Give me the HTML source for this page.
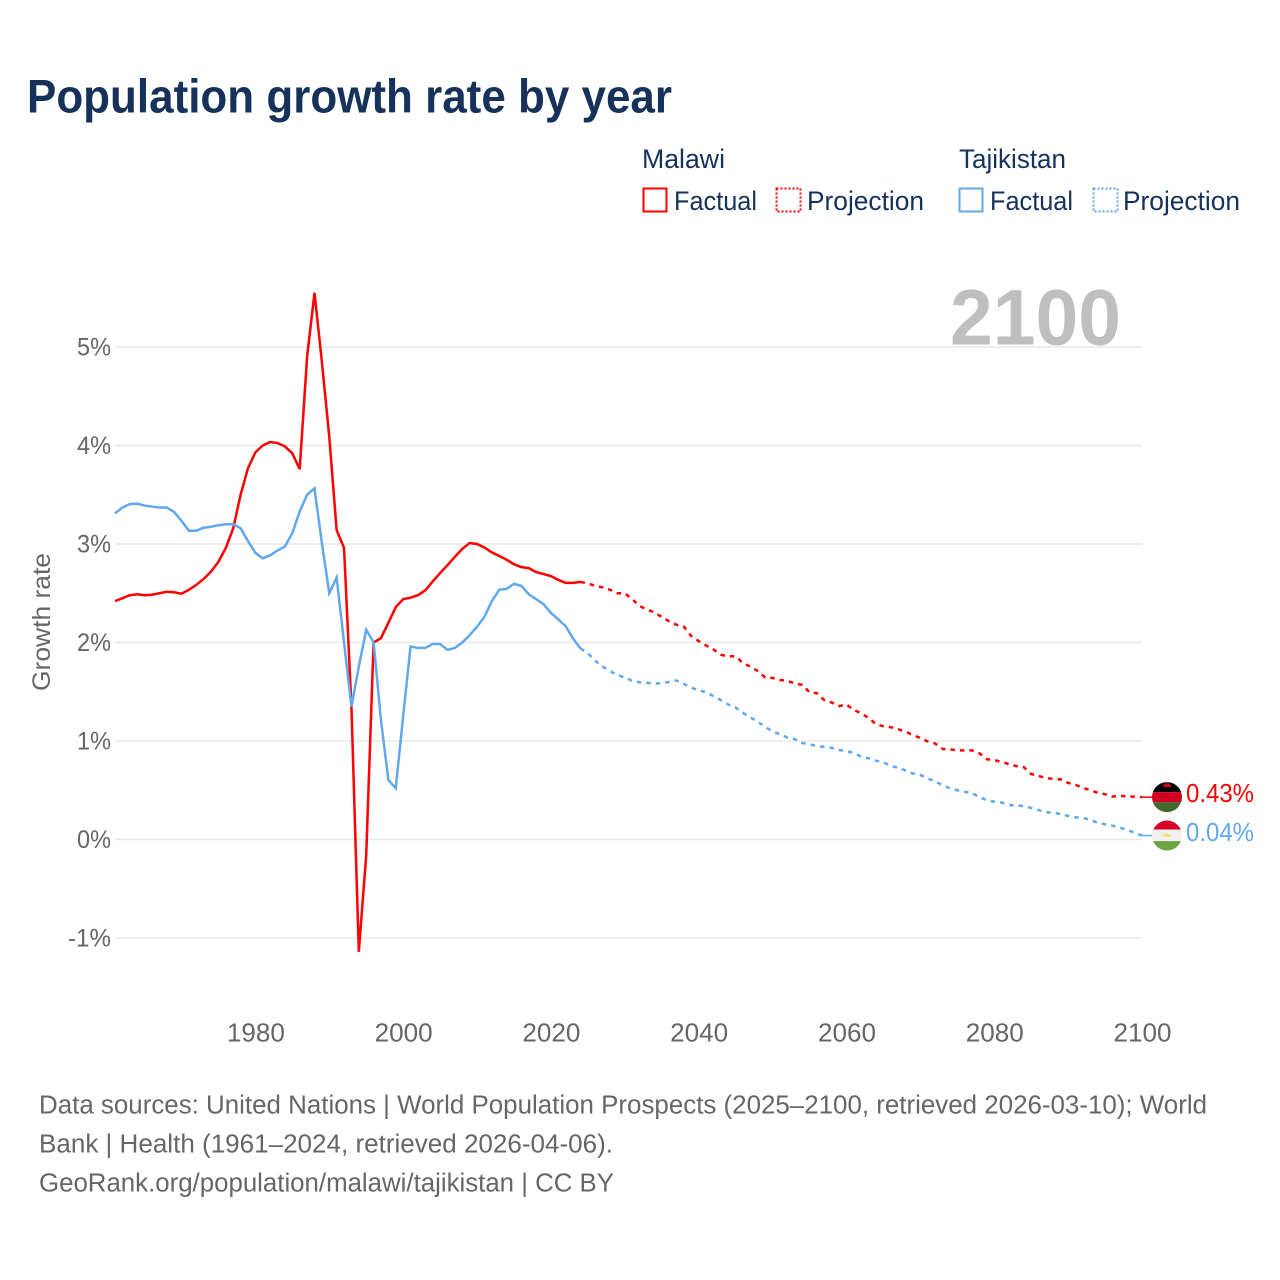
<!DOCTYPE html>
<html lang="en">
<head>
<meta charset="utf-8">
<title>Population growth rate by year</title>
<style>
html,body{margin:0;padding:0;background:#fff;width:1280px;height:1280px;overflow:hidden}
svg{display:block}
text{font-family:"Liberation Sans",sans-serif}
</style>
</head>
<body>
<svg id="chart" xmlns="http://www.w3.org/2000/svg" width="1280" height="1280" viewBox="0 0 1280 1280">
  <defs>
    <clipPath id="flag-clip"><circle cx="0" cy="0" r="15"></circle></clipPath>
  </defs>
  <rect x="0" y="0" width="1280" height="1280" fill="#ffffff"></rect>
  <text x="27" y="112.5" font-size="47" font-weight="700" fill="#16325a" textLength="645" lengthAdjust="spacingAndGlyphs">Population growth rate by year</text>

  <g font-size="26.5" fill="#16325a">
    <text x="642" y="168" textLength="83" lengthAdjust="spacingAndGlyphs">Malawi</text>
    <text x="959" y="168" textLength="107" lengthAdjust="spacingAndGlyphs">Tajikistan</text>
    <g>
      <rect x="643.5" y="188.5" width="23" height="23" fill="none" stroke="#ff0000" stroke-width="2"></rect>
      <text x="674" y="210" textLength="83" lengthAdjust="spacingAndGlyphs">Factual</text>
    </g>
    <g>
      <rect x="776.5" y="188.5" width="24" height="23" fill="none" stroke="#ff0000" stroke-width="2" stroke-dasharray="2 2"></rect>
      <text x="807" y="210" textLength="117" lengthAdjust="spacingAndGlyphs">Projection</text>
    </g>
    <g>
      <rect x="959.5" y="188.5" width="23" height="23" fill="none" stroke="#62a8ee" stroke-width="2"></rect>
      <text x="990" y="210" textLength="83" lengthAdjust="spacingAndGlyphs">Factual</text>
    </g>
    <g>
      <rect x="1093.5" y="188.5" width="24" height="23" fill="none" stroke="#62a8ee" stroke-width="2" stroke-dasharray="2 2"></rect>
      <text x="1123" y="210" textLength="117" lengthAdjust="spacingAndGlyphs">Projection</text>
    </g>
  </g>

  <g id="grid"></g>
  <text x="950" y="344.5" font-size="79" font-weight="700" fill="#bfbfbf" textLength="171" lengthAdjust="spacingAndGlyphs">2100</text>
  <g id="y-ticks" font-size="25" fill="#666666" text-anchor="end"></g>
  <g id="x-ticks" font-size="25.5" fill="#666666" text-anchor="middle"></g>
  <text transform="translate(50,622) rotate(-90)" font-size="25" fill="#666666" text-anchor="middle" textLength="138" lengthAdjust="spacingAndGlyphs">Growth rate</text>
  <g id="series"></g>

  <g id="flag-malawi">
    <g clip-path="url(#flag-clip)">
      <rect x="-15" y="-15" width="30" height="10" fill="#000000"></rect>
      <rect x="-15" y="-5" width="30" height="10" fill="#d0021f"></rect>
      <rect x="-15" y="5" width="30" height="10" fill="#47682c"></rect>
      <path d="M-4 -10 A4 4 0 0 1 4 -10 Z" fill="#d0021f"></path>
    </g>
  </g>
  <g id="flag-tajikistan">
    <g clip-path="url(#flag-clip)">
      <rect x="-15" y="-16" width="30" height="10" fill="#d80027"></rect>
      <rect x="-15" y="-6" width="30" height="11.5" fill="#f0f0f0"></rect>
      <rect x="-15" y="5.5" width="30" height="10" fill="#6da544"></rect>
      <path d="M-3.5 1 L-3.5 -2 L-1.5 0 L0 -3 L1.5 0 L3.5 -2 L3.5 1 Z" fill="#ffda44"></path>
    </g>
  </g>
  <text id="value-malawi" x="1186" y="802" font-size="25.5" fill="#ff0000" textLength="68" lengthAdjust="spacingAndGlyphs"></text>
  <text id="value-tajikistan" x="1186" y="841" font-size="25.5" fill="#62a8ee" textLength="68" lengthAdjust="spacingAndGlyphs"></text>

  <g font-size="25.5" fill="#666666">
    <text x="39" y="1113.5" textLength="1168" lengthAdjust="spacingAndGlyphs">Data sources: United Nations | World Population Prospects (2025–2100, retrieved 2026-03-10); World</text>
    <text x="39" y="1152.5" textLength="574" lengthAdjust="spacingAndGlyphs">Bank | Health (1961–2024, retrieved 2026-04-06).</text>
    <text x="39" y="1191.5" textLength="575" lengthAdjust="spacingAndGlyphs">GeoRank.org/population/malawi/tajikistan | CC BY</text>
  </g>
</svg>
<script>
const firstYear = 1961;
const lastYear = 2100;
const lastFactualYear = 2024;
const yTickValues = [-1, 0, 1, 2, 3, 4, 5];
const yTickLabels = ["-1%", "0%", "1%", "2%", "3%", "4%", "5%"];
const xTickValues = [1980, 2000, 2020, 2040, 2060, 2080, 2100];
const xTickLabels = ["1980", "2000", "2020", "2040", "2060", "2080", "2100"];

const malawiFactual = [2.42,2.45,2.48,2.49,2.48,2.485,2.5,2.515,2.51,2.495,2.535,2.585,2.645,2.72,2.82,2.96,3.16,3.5,3.77,3.93,4.0,4.035,4.025,3.99,3.92,3.76,4.9,5.55,4.85,4.09,3.14,2.96,1.35,-1.14,-0.16,2.0,2.045,2.2,2.36,2.44,2.455,2.48,2.53,2.62,2.705,2.785,2.87,2.95,3.01,3.0,2.965,2.915,2.88,2.84,2.795,2.765,2.755,2.715,2.695,2.675,2.635,2.605,2.605,2.615];
const tajikistanFactual = [3.31,3.37,3.405,3.41,3.39,3.38,3.37,3.37,3.325,3.235,3.135,3.135,3.165,3.175,3.19,3.2,3.2,3.16,3.03,2.91,2.855,2.885,2.935,2.975,3.11,3.33,3.5,3.565,3.01,2.5,2.66,2.0,1.35,1.755,2.13,2.0,1.21,0.604,0.52,1.25,1.96,1.945,1.945,1.985,1.985,1.925,1.945,2.0,2.075,2.16,2.26,2.42,2.535,2.545,2.595,2.575,2.49,2.44,2.39,2.3,2.235,2.165,2.04,1.94];
const malawiProjection = [2.615,2.6,2.575,2.56,2.535,2.5,2.5,2.44,2.37,2.335,2.305,2.26,2.215,2.18,2.16,2.065,2.015,1.97,1.93,1.875,1.86,1.86,1.79,1.755,1.71,1.645,1.64,1.62,1.61,1.585,1.57,1.495,1.485,1.415,1.39,1.355,1.37,1.315,1.28,1.235,1.17,1.15,1.14,1.12,1.095,1.06,1.03,0.995,0.975,0.92,0.915,0.905,0.905,0.905,0.875,0.815,0.805,0.79,0.765,0.745,0.735,0.665,0.645,0.625,0.615,0.61,0.575,0.555,0.525,0.5,0.475,0.46,0.435,0.445,0.435,0.435,0.43];
const tajikistanProjection = [1.94,1.89,1.815,1.755,1.71,1.67,1.645,1.61,1.595,1.59,1.585,1.585,1.6,1.615,1.58,1.54,1.515,1.495,1.455,1.415,1.37,1.34,1.285,1.24,1.195,1.145,1.095,1.07,1.035,1.02,0.98,0.965,0.95,0.94,0.93,0.91,0.895,0.88,0.84,0.825,0.8,0.785,0.745,0.73,0.7,0.67,0.655,0.62,0.59,0.55,0.52,0.5,0.485,0.47,0.43,0.4,0.385,0.375,0.35,0.345,0.34,0.32,0.3,0.275,0.275,0.255,0.24,0.225,0.22,0.2,0.17,0.155,0.14,0.12,0.095,0.07,0.04];

const SVG_NS = "http://www.w3.org/2000/svg";
const plotLeft = 115, plotRight = 1142, zeroY = 839.5, pxPerPercent = 98.5;
function xScale(year) { return plotLeft + (year - firstYear) * (plotRight - plotLeft) / (lastYear - firstYear); }
function yScale(value) { return zeroY - value * pxPerPercent; }
function makeEl(tag) { return document.createElementNS(SVG_NS, tag); }
function buildPath(values, startYear) {
  return values.map(function (v, i) {
    return (i === 0 ? "M" : "L") + xScale(startYear + i).toFixed(2) + " " + yScale(v).toFixed(2);
  }).join(" ");
}

const gridGroup = document.getElementById("grid");
const yTickGroup = document.getElementById("y-ticks");
yTickValues.forEach(function (v, i) {
  const line = makeEl("line");
  
  
  line.setAttribute("x1", plotLeft);
  line.setAttribute("x2", plotRight);
  line.setAttribute("y1", yScale(v));
  line.setAttribute("y2", yScale(v));
  line.setAttribute("stroke", "#e8e8e8");
  line.setAttribute("stroke-width", "1.5");
  gridGroup.appendChild(line);
  const label = makeEl("text");
  
  
  label.setAttribute("x", 111);
  label.setAttribute("y", yScale(v) + 8.5);
  label.setAttribute("textLength", yTickLabels[i].length === 3 ? 43 : 34);
  label.setAttribute("lengthAdjust", "spacingAndGlyphs");
  label.textContent = yTickLabels[i];
  yTickGroup.appendChild(label);
});

const xTickGroup = document.getElementById("x-ticks");
xTickValues.forEach(function (year, i) {
  const label = makeEl("text");
  
  
  label.setAttribute("x", xScale(year) + 0.5);
  label.setAttribute("y", 1041.5);
  label.setAttribute("textLength", 58);
  label.setAttribute("lengthAdjust", "spacingAndGlyphs");
  label.textContent = xTickLabels[i];
  xTickGroup.appendChild(label);
});

const seriesGroup = document.getElementById("series");

const malawiFactualLine = makeEl("path");


malawiFactualLine.setAttribute("d", buildPath(malawiFactual, firstYear));
malawiFactualLine.setAttribute("fill", "none");
malawiFactualLine.setAttribute("stroke", "#ff0000");
malawiFactualLine.setAttribute("stroke-width", "2.5");
seriesGroup.appendChild(malawiFactualLine);

const malawiProjectionLine = makeEl("path");


malawiProjectionLine.setAttribute("d", buildPath(malawiProjection, lastFactualYear));
malawiProjectionLine.setAttribute("fill", "none");
malawiProjectionLine.setAttribute("stroke", "#ff0000");
malawiProjectionLine.setAttribute("stroke-width", "2.5");
malawiProjectionLine.setAttribute("stroke-dasharray", "4.5 5");
seriesGroup.appendChild(malawiProjectionLine);

const tajikistanFactualLine = makeEl("path");


tajikistanFactualLine.setAttribute("d", buildPath(tajikistanFactual, firstYear));
tajikistanFactualLine.setAttribute("fill", "none");
tajikistanFactualLine.setAttribute("stroke", "#62a8ee");
tajikistanFactualLine.setAttribute("stroke-width", "2.5");
seriesGroup.appendChild(tajikistanFactualLine);

const tajikistanProjectionLine = makeEl("path");


tajikistanProjectionLine.setAttribute("d", buildPath(tajikistanProjection, lastFactualYear));
tajikistanProjectionLine.setAttribute("fill", "none");
tajikistanProjectionLine.setAttribute("stroke", "#62a8ee");
tajikistanProjectionLine.setAttribute("stroke-width", "2.5");
tajikistanProjectionLine.setAttribute("stroke-dasharray", "4.5 5");
seriesGroup.appendChild(tajikistanProjectionLine);

const malawiEnd = malawiProjection[malawiProjection.length - 1];
const tajikistanEnd = tajikistanProjection[tajikistanProjection.length - 1];

const malawiLeader = makeEl("line");


malawiLeader.setAttribute("x1", plotRight);
malawiLeader.setAttribute("x2", 1153);
malawiLeader.setAttribute("y1", yScale(malawiEnd));
malawiLeader.setAttribute("y2", yScale(malawiEnd));
malawiLeader.setAttribute("stroke", "#ff0000");
malawiLeader.setAttribute("stroke-width", "1.5");
seriesGroup.appendChild(malawiLeader);

const tajikistanLeader = makeEl("line");


tajikistanLeader.setAttribute("x1", plotRight);
tajikistanLeader.setAttribute("x2", 1153);
tajikistanLeader.setAttribute("y1", yScale(tajikistanEnd));
tajikistanLeader.setAttribute("y2", yScale(tajikistanEnd));
tajikistanLeader.setAttribute("stroke", "#62a8ee");
tajikistanLeader.setAttribute("stroke-width", "1.5");
seriesGroup.appendChild(tajikistanLeader);

document.getElementById("flag-malawi").setAttribute("transform", "translate(1167," + yScale(malawiEnd) + ")");
document.getElementById("flag-tajikistan").setAttribute("transform", "translate(1167," + yScale(tajikistanEnd) + ")");

const malawiValue = document.getElementById("value-malawi");
malawiValue.setAttribute("y", yScale(malawiEnd) + 5);
malawiValue.textContent = malawiEnd.toFixed(2) + "%";
const tajikistanValue = document.getElementById("value-tajikistan");
tajikistanValue.setAttribute("y", yScale(tajikistanEnd) + 5.5);
tajikistanValue.textContent = tajikistanEnd.toFixed(2) + "%";
</script>
</body>
</html>
